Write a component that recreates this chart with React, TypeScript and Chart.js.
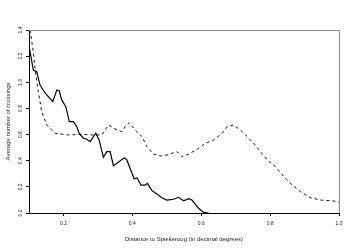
import React, { useEffect, useRef } from "react";
import { Chart, registerables } from "chart.js";

Chart.register(...registerables);

const xTickValues = [0.2, 0.4, 0.6, 0.8, 1.0];
const yTickValues = [0, 0.2, 0.4, 0.6, 0.8, 1.0, 1.2, 1.4];
const xTitle = "Distance to Spiekeroog (in decimal degrees)";
const yTitle = "Average number of crossings";

const solidX = [0.1, 0.1125, 0.1224, 0.132, 0.1465, 0.169, 0.1806, 0.188, 0.195, 0.2068, 0.217, 0.229, 0.2388, 0.2455, 0.258, 0.268, 0.2775, 0.294, 0.3036, 0.316, 0.326, 0.3356, 0.345, 0.377, 0.384, 0.4055, 0.4133, 0.425, 0.4375, 0.444, 0.457, 0.4715, 0.486, 0.5, 0.52, 0.534, 0.549, 0.5634, 0.573, 0.5925, 0.607, 0.6216];
const solidY = [1.28, 1.094, 1.081, 0.979, 0.918, 0.852, 0.941, 0.933, 0.865, 0.813, 0.699, 0.699, 0.66, 0.61, 0.572, 0.564, 0.546, 0.61, 0.559, 0.426, 0.469, 0.469, 0.362, 0.423, 0.406, 0.26, 0.27, 0.214, 0.214, 0.227, 0.171, 0.145, 0.117, 0.099, 0.105, 0.12, 0.094, 0.109, 0.099, 0.036, 0.005, 0.0];

const dashedX = [0.103, 0.1125, 0.1175, 0.127, 0.137, 0.1515, 0.1756, 0.2143, 0.2533, 0.2824, 0.3115, 0.3307, 0.35, 0.3697, 0.379, 0.391, 0.4084, 0.428, 0.4424, 0.4616, 0.481, 0.5006, 0.52, 0.53, 0.544, 0.5634, 0.588, 0.612, 0.636, 0.6606, 0.675, 0.694, 0.7138, 0.7333, 0.7525, 0.772, 0.7915, 0.8156, 0.84, 0.864, 0.888, 0.917, 0.9465, 0.9756, 1.0];
const dashedY = [1.4, 1.234, 1.107, 0.928, 0.775, 0.673, 0.61, 0.597, 0.602, 0.597, 0.597, 0.673, 0.643, 0.622, 0.66, 0.691, 0.635, 0.584, 0.507, 0.451, 0.436, 0.444, 0.461, 0.469, 0.431, 0.451, 0.487, 0.533, 0.558, 0.61, 0.66, 0.673, 0.635, 0.584, 0.533, 0.469, 0.406, 0.354, 0.278, 0.214, 0.163, 0.117, 0.099, 0.094, 0.086];

const FONT = '"Liberation Sans", Arial, sans-serif';

const textPlugin = {
  id: "rStyle",
  afterDraw(chart: any) {
    const ctx = chart.ctx;
    const area = chart.chartArea;
    const xs = chart.scales.x;
    const ys = chart.scales.y;
    ctx.save();
    ctx.strokeStyle = "#8a8a8a";
    ctx.lineWidth = 1;
    ctx.beginPath();
    ctx.moveTo(area.left, area.top + 0.5);
    ctx.lineTo(area.right + 0.5, area.top + 0.5);
    ctx.lineTo(area.right + 0.5, area.bottom);
    ctx.stroke();

    ctx.fillStyle = "#222";
    ctx.textAlign = "center";
    ctx.textBaseline = "middle";
    ctx.font = "5px " + FONT;
    xTickValues.forEach((v) => {
      ctx.fillText(v.toFixed(1), xs.getPixelForValue(v), 224);
    });
    yTickValues.forEach((v) => {
      const py = ys.getPixelForValue(v);
      ctx.save();
      ctx.translate(21, py);
      ctx.rotate(-Math.PI / 2);
      ctx.fillText(v.toFixed(1), 0, 0);
      ctx.restore();
    });
    ctx.font = "6px " + FONT;
    ctx.fillText(xTitle, (area.left + area.right) / 2, 239);
    ctx.save();
    ctx.translate(8, (area.top + area.bottom) / 2);
    ctx.rotate(-Math.PI / 2);
    ctx.fillText(yTitle, 0, 0);
    ctx.restore();
    ctx.restore();
  },
};

export default function App() {
  const ref = useRef<HTMLCanvasElement | null>(null);
  useEffect(() => {
    if (!ref.current) return;
    const chart = new Chart(ref.current, {
      type: "line",
      data: {
        datasets: [
          {
            data: solidX.map((x, i) => ({ x, y: solidY[i] })),
            borderColor: "#000",
            borderWidth: 1.2,
            pointRadius: 0,
            tension: 0,
            fill: false,
          },
          {
            data: dashedX.map((x, i) => ({ x, y: dashedY[i] })),
            borderColor: "#111",
            borderWidth: 1,
            borderDash: [3, 3],
            pointRadius: 0,
            tension: 0,
            fill: false,
          },
        ],
      },
      options: {
        animation: false,
        responsive: true,
        maintainAspectRatio: false,
        layout: { padding: { left: 0, top: 30, right: 15, bottom: 0 } },
        plugins: { legend: { display: false }, tooltip: { enabled: false } },
        scales: {
          x: {
            type: "linear",
            min: 0.1,
            max: 1.0,
            afterBuildTicks: (s: any) => {
              s.ticks = xTickValues.map((v) => ({ value: v }));
            },
            afterFit: (s: any) => {
              s.height = 38;
            },
            ticks: { display: false },
            grid: { display: true, drawOnChartArea: false, drawTicks: true, tickLength: 3, color: "#000" },
            border: { display: true, color: "#000", width: 1 },
          },
          y: {
            type: "linear",
            min: 0,
            max: 1.4,
            afterBuildTicks: (s: any) => {
              s.ticks = yTickValues.map((v) => ({ value: v }));
            },
            afterFit: (s: any) => {
              s.width = 29;
            },
            ticks: { display: false },
            grid: { display: true, drawOnChartArea: false, drawTicks: true, tickLength: 3, color: "#000" },
            border: { display: true, color: "#000", width: 1 },
          },
        },
      },
      plugins: [textPlugin],
    } as any);
    return () => chart.destroy();
  }, []);
  return (
    <div style={{ position: "absolute", left: 0, top: 0, width: 354, height: 251, background: "#fff" }}>
      <canvas ref={ref} />
    </div>
  );
}
